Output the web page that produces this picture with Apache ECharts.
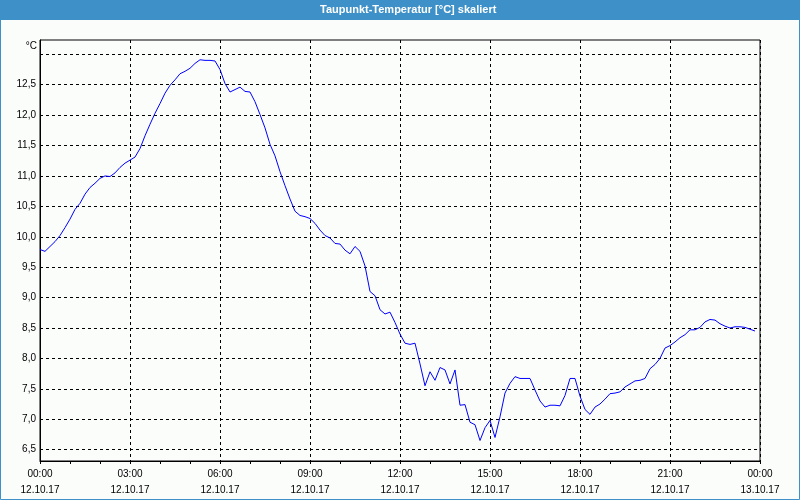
<!DOCTYPE html>
<html>
<head>
<meta charset="utf-8">
<script src="https://cdn.jsdelivr.net/npm/echarts@6/dist/echarts.min.js"></script>
<style>
html,body{margin:0;padding:0;background:#fbfdfb;}
#chart{width:800px;height:500px;}
</style>
</head>
<body>
<div id="chart"></div>
<script>
// Dew point samples, one every 10 minutes starting 12.10.17 00:00
const sampleStepMinutes = 10;
const dewPoint = [
  9.79, 9.76, 9.84, 9.92, 10.02, 10.15, 10.29, 10.45, 10.55, 10.70,
  10.81, 10.88, 10.96, 11.00, 10.99, 11.05, 11.14, 11.21, 11.26, 11.31,
  11.45, 11.66, 11.85, 12.03, 12.19, 12.36, 12.49, 12.58, 12.68, 12.72,
  12.77, 12.85, 12.91, 12.90, 12.90, 12.89, 12.75,
  12.52, 12.38, 12.42, 12.46, 12.39, 12.38, 12.22, 12.01, 11.79, 11.52,
  11.33, 11.07, 10.84, 10.62, 10.42, 10.35, 10.33, 10.30, 10.22, 10.11,
  10.02, 9.98, 9.89, 9.88, 9.78, 9.72, 9.84, 9.76, 9.52, 9.10,
  9.03, 8.80, 8.73, 8.76, 8.59, 8.40,
  8.25, 8.23, 8.25, 7.91, 7.55, 7.78, 7.64, 7.85, 7.81, 7.58,
  7.81, 7.23, 7.24, 6.95, 6.91, 6.65, 6.86, 6.98, 6.70, 7.04,
  7.43, 7.59, 7.70, 7.67, 7.67, 7.67, 7.48, 7.30, 7.20, 7.23,
  7.23, 7.22, 7.39, 7.67, 7.67, 7.38,
  7.16, 7.08, 7.20, 7.25, 7.33, 7.42, 7.43, 7.45, 7.53, 7.58,
  7.63, 7.64, 7.67, 7.83, 7.90, 8.00, 8.17, 8.21, 8.27, 8.34,
  8.39, 8.47, 8.47, 8.51, 8.60, 8.64, 8.63, 8.57, 8.53, 8.50,
  8.52, 8.52, 8.51, 8.48, 8.45
];
const xTickTimes = ['00:00','03:00','06:00','09:00','12:00','15:00','18:00','21:00','00:00'];
const xTickDates = ['12.10.17','12.10.17','12.10.17','12.10.17','12.10.17','12.10.17','12.10.17','12.10.17','13.10.17'];
const yGridValues = [6.5, 7.0, 7.5, 8.0, 8.5, 9.0, 9.5, 10.0, 10.5, 11.0, 11.5, 12.0, 12.5, 13.0];
const yLabelValues = [6.5, 7.0, 7.5, 8.0, 8.5, 9.0, 9.5, 10.0, 10.5, 11.0, 11.5, 12.0, 12.5];
const yMin = 6.313, yMax = 13.235;
const titleText = 'Taupunkt-Temperatur [°C] skaliert';

const seriesData = dewPoint.map((v, i) => [i * sampleStepMinutes, v]);
const font = "'Liberation Sans', Arial, sans-serif";

const chart = echarts.init(document.getElementById('chart'), null, {renderer: 'canvas'});
chart.setOption({
  animation: false,
  backgroundColor: '#fbfdfb',
  title: {
    text: titleText,
    left: 320,
    top: 4,
    padding: 0,
    textStyle: {color: '#ffffff', fontSize: 11, fontWeight: 'bold', fontFamily: font}
  },
  graphic: [
    {type: 'rect', z: -1, shape: {x: 0, y: 0, width: 800, height: 20}, style: {fill: '#3d91c8'}},
    {type: 'rect', z: 100, shape: {x: 0.5, y: 0.5, width: 799, height: 499}, style: {fill: null, stroke: '#3d91c8', lineWidth: 1}}
  ],
  grid: {left: 40, right: 40, top: 40, bottom: 39, show: true, borderColor: '#000', borderWidth: 1, backgroundColor: 'transparent'},
  xAxis: {
    type: 'value', min: 0, max: 1440, interval: 180,
    axisLine: {show: true, lineStyle: {color: '#000', width: 1}},
    axisTick: {show: true, length: 3, lineStyle: {color: '#000'}},
    minorTick: {show: true, splitNumber: 3, length: 3, lineStyle: {color: '#000'}},
    splitLine: {show: true, lineStyle: {color: '#000', type: [3, 3], width: 1}},
    axisLabel: {
      margin: 5, color: '#000', fontSize: 10, fontFamily: font, lineHeight: 16,
      formatter: v => { const k = Math.round(v / 180); return xTickTimes[k] + '\n' + xTickDates[k]; }
    }
  },
  yAxis: {
    type: 'value', min: yMin, max: yMax,
    name: '°C', nameLocation: 'end', nameGap: 0,
    nameTextStyle: {color: '#000', fontSize: 10, fontFamily: font, align: 'right', verticalAlign: 'top', padding: [1, 3, 0, 0]},
    axisLine: {show: true, lineStyle: {color: '#000', width: 1}},
    axisTick: {show: false, customValues: yGridValues},
    splitLine: {show: true, lineStyle: {color: '#000', type: [3, 3], width: 1}},
    axisLabel: {
      margin: 4, color: '#000', fontSize: 10, fontFamily: font, customValues: yLabelValues,
      formatter: v => v.toFixed(1).replace('.', ',')
    }
  },
  series: [{
    type: 'line', data: seriesData, showSymbol: false, symbol: 'none',
    lineStyle: {color: '#0000ff', width: 1}, itemStyle: {color: '#0000ff'}
  }]
});
</script>
</body>
</html>
